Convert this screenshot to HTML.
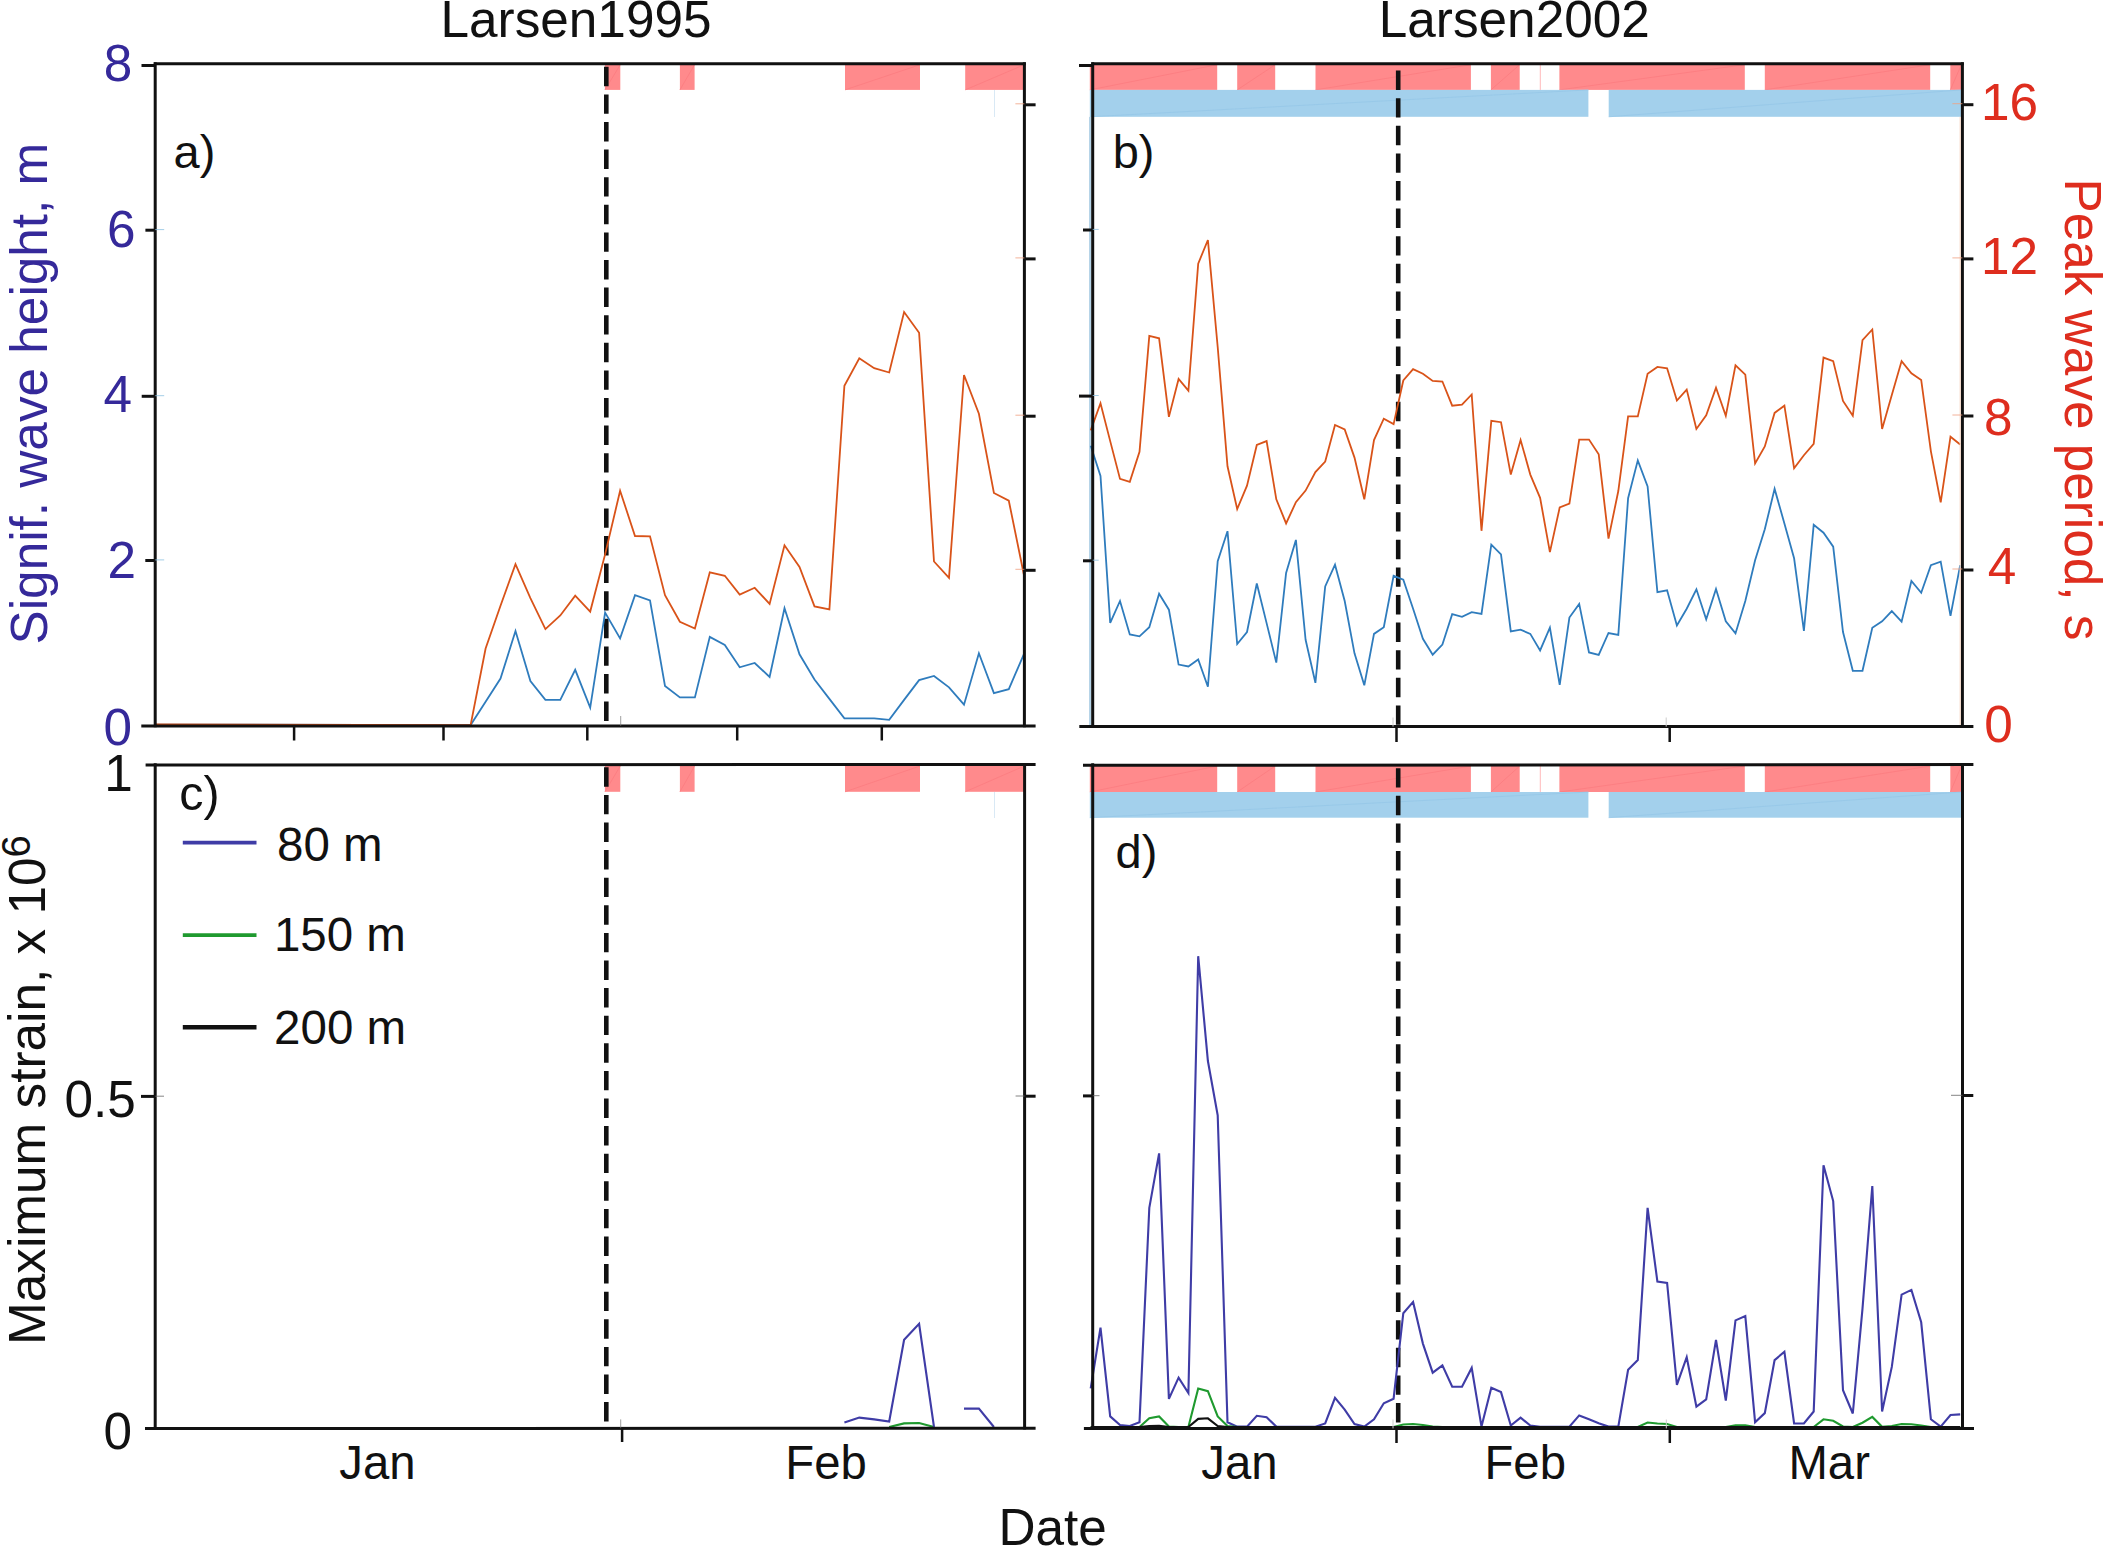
<!DOCTYPE html>
<html lang="en"><head><meta charset="utf-8"><title>Larsen wave figure</title>
<style>
html,body{margin:0;padding:0;background:#fff;}
body{width:2103px;height:1547px;overflow:hidden;}
svg{display:block;}
text{font-family:"Liberation Sans",Arial,Helvetica,sans-serif;}
</style></head><body>
<svg width="2103" height="1547" viewBox="0 0 2103 1547">
<rect width="2103" height="1547" fill="#fff"/>
<g id="bars"><rect x="604.9" y="64.7" width="15.4" height="25.2" fill="#ff8a8c"/><line x1="604.9" y1="89.9" x2="620.3" y2="64.7" stroke="#fb7a7e" stroke-width="0.7"/><rect x="679.9" y="64.7" width="14.7" height="25.2" fill="#ff8a8c"/><line x1="679.9" y1="89.9" x2="694.6" y2="64.7" stroke="#fb7a7e" stroke-width="0.7"/><rect x="845" y="64.7" width="75" height="25.2" fill="#ff8a8c"/><line x1="845" y1="89.9" x2="920" y2="64.7" stroke="#fb7a7e" stroke-width="0.7"/><rect x="965.2" y="64.7" width="59.1" height="25.2" fill="#ff8a8c"/><line x1="965.2" y1="89.9" x2="1024.3" y2="64.7" stroke="#fb7a7e" stroke-width="0.7"/><rect x="604.9" y="766" width="15.4" height="25.8" fill="#ff8a8c"/><line x1="604.9" y1="791.8" x2="620.3" y2="766" stroke="#fb7a7e" stroke-width="0.7"/><rect x="679.9" y="766" width="14.7" height="25.8" fill="#ff8a8c"/><line x1="679.9" y1="791.8" x2="694.6" y2="766" stroke="#fb7a7e" stroke-width="0.7"/><rect x="845" y="766" width="75" height="25.8" fill="#ff8a8c"/><line x1="845" y1="791.8" x2="920" y2="766" stroke="#fb7a7e" stroke-width="0.7"/><rect x="965.2" y="766" width="59.1" height="25.8" fill="#ff8a8c"/><line x1="965.2" y1="791.8" x2="1024.3" y2="766" stroke="#fb7a7e" stroke-width="0.7"/><rect x="1089.8" y="64.7" width="127.4" height="25.2" fill="#ff8a8c"/><line x1="1089.8" y1="89.9" x2="1217.2" y2="64.7" stroke="#fb7a7e" stroke-width="0.7"/><rect x="1237.2" y="64.7" width="38" height="25.2" fill="#ff8a8c"/><line x1="1237.2" y1="89.9" x2="1275.2" y2="64.7" stroke="#fb7a7e" stroke-width="0.7"/><rect x="1315.5" y="64.7" width="155.4" height="25.2" fill="#ff8a8c"/><line x1="1315.5" y1="89.9" x2="1470.9" y2="64.7" stroke="#fb7a7e" stroke-width="0.7"/><rect x="1490.9" y="64.7" width="28.8" height="25.2" fill="#ff8a8c"/><line x1="1490.9" y1="89.9" x2="1519.7" y2="64.7" stroke="#fb7a7e" stroke-width="0.7"/><rect x="1559.4" y="64.7" width="185.4" height="25.2" fill="#ff8a8c"/><line x1="1559.4" y1="89.9" x2="1744.8" y2="64.7" stroke="#fb7a7e" stroke-width="0.7"/><rect x="1764.8" y="64.7" width="165.4" height="25.2" fill="#ff8a8c"/><line x1="1764.8" y1="89.9" x2="1930.2" y2="64.7" stroke="#fb7a7e" stroke-width="0.7"/><rect x="1950.3" y="64.7" width="11.1" height="25.2" fill="#ff8a8c"/><line x1="1950.3" y1="89.9" x2="1961.4" y2="64.7" stroke="#fb7a7e" stroke-width="0.7"/><rect x="1089.8" y="89.9" width="498.6" height="26.9" fill="#a3d0ec"/><line x1="1089.8" y1="116.8" x2="1588.4" y2="89.9" stroke="#93c6e6" stroke-width="0.7"/><rect x="1608.7" y="89.9" width="352.7" height="26.9" fill="#a3d0ec"/><line x1="1608.7" y1="116.8" x2="1961.4" y2="89.9" stroke="#93c6e6" stroke-width="0.7"/><rect x="1089.8" y="766" width="127.4" height="26" fill="#ff8a8c"/><line x1="1089.8" y1="792" x2="1217.2" y2="766" stroke="#fb7a7e" stroke-width="0.7"/><rect x="1237.2" y="766" width="38" height="26" fill="#ff8a8c"/><line x1="1237.2" y1="792" x2="1275.2" y2="766" stroke="#fb7a7e" stroke-width="0.7"/><rect x="1315.5" y="766" width="155.4" height="26" fill="#ff8a8c"/><line x1="1315.5" y1="792" x2="1470.9" y2="766" stroke="#fb7a7e" stroke-width="0.7"/><rect x="1490.9" y="766" width="28.8" height="26" fill="#ff8a8c"/><line x1="1490.9" y1="792" x2="1519.7" y2="766" stroke="#fb7a7e" stroke-width="0.7"/><rect x="1559.4" y="766" width="185.4" height="26" fill="#ff8a8c"/><line x1="1559.4" y1="792" x2="1744.8" y2="766" stroke="#fb7a7e" stroke-width="0.7"/><rect x="1764.8" y="766" width="165.4" height="26" fill="#ff8a8c"/><line x1="1764.8" y1="792" x2="1930.2" y2="766" stroke="#fb7a7e" stroke-width="0.7"/><rect x="1950.3" y="766" width="11.1" height="26" fill="#ff8a8c"/><line x1="1950.3" y1="792" x2="1961.4" y2="766" stroke="#fb7a7e" stroke-width="0.7"/><rect x="1089.8" y="792" width="498.6" height="25.7" fill="#a3d0ec"/><line x1="1089.8" y1="817.7" x2="1588.4" y2="792" stroke="#93c6e6" stroke-width="0.7"/><rect x="1608.7" y="792" width="352.7" height="25.7" fill="#a3d0ec"/><line x1="1608.7" y1="817.7" x2="1961.4" y2="792" stroke="#93c6e6" stroke-width="0.7"/><line x1="1540.3" y1="65" x2="1540.3" y2="89.9" stroke="#ff8a8c" stroke-width="0.6"/><line x1="1540.3" y1="766" x2="1540.3" y2="792" stroke="#ff8a8c" stroke-width="0.6"/><line x1="994.5" y1="90" x2="994.5" y2="117" stroke="#cfe3f3" stroke-width="0.8"/><line x1="994.5" y1="792" x2="994.5" y2="818" stroke="#cfe3f3" stroke-width="0.8"/></g>
<g id="dashes" stroke="#111" stroke-width="4.6" stroke-dasharray="19.4 8.2" fill="none"><line x1="606.3" y1="66.8" x2="606.3" y2="722"/><line x1="606.3" y1="767.3" x2="606.3" y2="1422.5"/><line x1="1398.2" y1="70.6" x2="1398.2" y2="725"/><line x1="1398.2" y1="768.2" x2="1398.2" y2="1426"/></g>
<g id="series" fill="none" stroke-linejoin="miter" stroke-miterlimit="4"><polyline stroke="#2f7cbd" stroke-width="1.8" points="155.5,724.6 470.6,725.1 485.6,701.8 500.5,678.6 515.5,631 530.4,681.1 545.4,699.9 560.3,699.9 575.2,669.8 590.2,707.6 605.1,612.6 620.1,638.4 635,595.2 650,600.4 665,685.9 679.9,697.4 694.9,697.4 709.8,636.9 724.8,645 739.7,667.3 754.7,663 769.6,677 784.5,608.3 799.5,654.3 814.5,679.5 829.4,698.9 844.4,718.3 859.3,718.3 874.2,718.3 889.2,719.9 904.1,699.9 919.1,680.1 934,676 949,687.3 964,704.7 978.9,653.3 993.9,693.1 1008.8,689.2 1023.8,654.3"/><polyline stroke="#d95319" stroke-width="1.8" points="155.5,724.4 470.6,725.1 485.6,648.5 500.5,605.8 515.5,564.1 530.4,598.1 545.4,629.1 560.3,615.5 575.2,595.7 590.2,611.6 605.1,554.4 620.1,490.8 635,536 650,536.4 665,595.2 679.9,621.7 694.9,628.5 709.8,572.3 724.8,575.8 739.7,594.6 754.7,587.8 769.6,603.9 784.5,545.3 799.5,567 814.5,606.4 829.4,609.3 844.4,385.7 859.3,358.2 874.2,368.2 889.2,372.5 904.1,312 919.1,332.8 934,561.5 949,577.9 964,375 978.9,413.8 993.9,493 1008.8,500.7 1023.8,574.3"/><line x1="1090.2" y1="117" x2="1090.2" y2="725" stroke="#b6d4e8" stroke-width="2.4"/><polyline stroke="#2f7cbd" stroke-width="1.8" points="1090.7,445.8 1100.5,475.9 1110.2,622.9 1120,601 1129.8,634.5 1139.5,636.3 1149.3,627.2 1159.1,593.8 1168.9,609.7 1178.6,664.6 1188.4,666.5 1198.2,659.5 1207.9,686.7 1217.7,561.2 1227.5,531.2 1237.2,644 1247,632 1256.8,583.5 1266.6,623.1 1276.3,662.6 1286.1,572.9 1295.9,539.9 1305.6,639.8 1315.4,682.8 1325.2,586.4 1335,564.7 1344.7,601 1354.5,653.3 1364.3,685.3 1374,633.9 1383.8,627.2 1393.6,575.8 1403.3,579.6 1413.1,608.7 1422.9,638.8 1432.7,654.7 1442.4,644.6 1452.2,614.2 1462,616.9 1471.7,612.2 1481.5,614 1491.3,544.7 1501,554.4 1510.8,631.4 1520.6,629.7 1530.3,633.9 1540.1,650.4 1549.9,627.7 1559.7,684.8 1569.4,617.5 1579.2,603.9 1589,652.4 1598.7,654.9 1608.5,633 1618.3,634.9 1628.1,498.2 1637.8,460.4 1647.6,486.5 1657.4,592.2 1667.1,590.3 1676.9,625.4 1686.7,608.7 1696.4,589.3 1706.2,619.4 1716,589 1725.8,621.3 1735.5,633.4 1745.3,601 1755.1,560.2 1764.8,529.2 1774.6,488.9 1784.4,523.4 1794.1,558.3 1803.9,631 1813.7,524.8 1823.5,532.7 1833.2,546.7 1843,632 1852.8,670.8 1862.5,670.8 1872.3,627.7 1882.1,621.3 1891.8,611.1 1901.6,621.7 1911.4,581 1921.2,592.8 1930.9,565.1 1940.7,561.6 1950.5,615.9 1960.2,565.1"/><polyline stroke="#d95319" stroke-width="1.8" points="1090.7,430.4 1100.5,403.3 1110.2,441.1 1120,478.9 1129.8,481.8 1139.5,451.8 1149.3,335.8 1159.1,338.3 1168.9,416.9 1178.6,379 1188.4,390.7 1198.2,263.6 1207.9,240 1217.7,347 1227.5,466.3 1237.2,509 1247,485.7 1256.8,445 1266.6,441.1 1276.3,499.3 1286.1,523.4 1295.9,502.2 1305.6,490.6 1315.4,472.1 1325.2,461.5 1335,425 1344.7,429.5 1354.5,457.6 1364.3,499.3 1374,440.1 1383.8,418.7 1393.6,424.1 1403.3,380.5 1413.1,369.2 1422.9,373.7 1432.7,380.9 1442.4,381.5 1452.2,405.7 1462,404.7 1471.7,394.5 1481.5,530.8 1491.3,420.8 1501,422.2 1510.8,474.6 1520.6,440 1530.3,474.6 1540.1,497.8 1549.9,552.1 1559.7,507.5 1569.4,503.6 1579.2,439.6 1589,439.6 1598.7,454.2 1608.5,538.6 1618.3,491 1628.1,416.4 1637.8,416.4 1647.6,373.7 1657.4,366.9 1667.1,368.3 1676.9,400.5 1686.7,389.6 1696.4,429 1706.2,415.4 1716,387.7 1725.8,415.8 1735.5,365.4 1745.3,374.7 1755.1,463.5 1764.8,446.4 1774.6,412.9 1784.4,405.7 1794.1,468.2 1803.9,455.2 1813.7,443.9 1823.5,357.6 1833.2,361.1 1843,400.9 1852.8,415.8 1862.5,340.1 1872.3,329.5 1882.1,429 1891.8,395 1901.6,361.1 1911.4,373.3 1921.2,379.9 1930.9,451.3 1940.7,502.3 1950.5,436.7 1960.2,444.5"/><polyline stroke="#1f9a2f" stroke-width="2.1" points="889.2,1427 904.1,1423.4 919.1,1423 934,1427"/><polyline stroke="#3f3ca6" stroke-width="2.1" points="844.4,1422.5 859.3,1417.6 874.2,1419.4 889.2,1421.5 904.1,1339.8 919.1,1323.9 934,1427"/><polyline stroke="#3f3ca6" stroke-width="2.1" points="964,1408.6 978.9,1408.6 993.9,1427"/><polyline stroke="#3f3ca6" stroke-width="2.1" points="1090.7,1388.3 1100.5,1327.7 1110.2,1416.4 1120,1425.1 1129.8,1426 1139.5,1422.2 1149.3,1207.9 1159.1,1153.4 1168.9,1398.9 1178.6,1377.6 1188.4,1393.1 1198.2,956.2 1207.9,1061 1217.7,1115.3 1227.5,1422.2 1237.2,1426.6 1247,1426.6 1256.8,1415.8 1266.6,1417.3 1276.3,1426.6 1286.1,1426.8 1295.9,1426.8 1305.6,1426.8 1315.4,1426.8 1325.2,1423.5 1335,1397.9 1344.7,1409.6 1354.5,1424.1 1364.3,1426.6 1374,1419.3 1383.8,1403.3 1393.6,1398.7 1403.3,1313.2 1413.1,1301.9 1422.9,1343.6 1432.7,1372.7 1442.4,1365.4 1452.2,1386.7 1462,1386.7 1471.7,1367.9 1481.5,1426.6 1491.3,1387.7 1501,1392.1 1510.8,1425.5 1520.6,1417.7 1530.3,1425.5 1540.1,1426.8 1549.9,1426.8 1559.7,1426.8 1569.4,1426.6 1579.2,1415.4 1589,1419.3 1598.7,1423.2 1608.5,1426.6 1618.3,1426.6 1628.1,1369.8 1637.8,1360.1 1647.6,1207.9 1657.4,1281.6 1667.1,1282.9 1676.9,1384.8 1686.7,1357.2 1696.4,1406.7 1706.2,1399.3 1716,1339.8 1725.8,1400.5 1735.5,1320.4 1745.3,1316.1 1755.1,1422.2 1764.8,1413.1 1774.6,1360.1 1784.4,1351.8 1794.1,1423.5 1803.9,1423.5 1813.7,1411.5 1823.5,1165.2 1833.2,1201.1 1843,1390.2 1852.8,1413.5 1862.5,1308.7 1872.3,1186 1882.1,1411.5 1891.8,1366.9 1901.6,1294.6 1911.4,1289.9 1921.2,1322.3 1930.9,1419.3 1940.7,1426.6 1950.5,1415 1960.2,1414.4"/><polyline stroke="#1f9a2f" stroke-width="2.1" points="1090.7,1427 1100.5,1427 1110.2,1427 1120,1427 1129.8,1427 1139.5,1427 1149.3,1418.3 1159.1,1416.4 1168.9,1426.5 1178.6,1427 1188.4,1427 1198.2,1388.6 1207.9,1391.2 1217.7,1416.4 1227.5,1426 1237.2,1427 1247,1427 1256.8,1427 1266.6,1427 1276.3,1427 1286.1,1427 1295.9,1427 1305.6,1427 1315.4,1427 1325.2,1427 1335,1427 1344.7,1427 1354.5,1427 1364.3,1427 1374,1427 1383.8,1427 1393.6,1427 1403.3,1424.5 1413.1,1424 1422.9,1425 1432.7,1426.5 1442.4,1427 1452.2,1427 1462,1427 1471.7,1427 1481.5,1427 1491.3,1427 1501,1427 1510.8,1427 1520.6,1427 1530.3,1427 1540.1,1427 1549.9,1427 1559.7,1427 1569.4,1427 1579.2,1427 1589,1427 1598.7,1427 1608.5,1427 1618.3,1427 1628.1,1427 1637.8,1427 1647.6,1422.5 1657.4,1423.5 1667.1,1424 1676.9,1427 1686.7,1427 1696.4,1427 1706.2,1427 1716,1427 1725.8,1427 1735.5,1425.3 1745.3,1425.3 1755.1,1427 1764.8,1427 1774.6,1427 1784.4,1427 1794.1,1427 1803.9,1427 1813.7,1427 1823.5,1419.3 1833.2,1420.8 1843,1426.5 1852.8,1427 1862.5,1422.7 1872.3,1416.9 1882.1,1426.8 1891.8,1426 1901.6,1424 1911.4,1424.3 1921.2,1425.5 1930.9,1427 1940.7,1427 1950.5,1427 1960.2,1427"/><polyline stroke="#111" stroke-width="2.1" points="1090.7,1427 1100.5,1427 1110.2,1427 1120,1427 1129.8,1427 1139.5,1427 1149.3,1426 1159.1,1425.8 1168.9,1427 1178.6,1427 1188.4,1427 1198.2,1418.9 1207.9,1418.3 1217.7,1426 1227.5,1427 1237.2,1427 1247,1427 1256.8,1427 1266.6,1427 1276.3,1427 1286.1,1427 1295.9,1427 1305.6,1427 1315.4,1427 1325.2,1427 1335,1427 1344.7,1427 1354.5,1427 1364.3,1427 1374,1427 1383.8,1427 1393.6,1427 1403.3,1427 1413.1,1427 1422.9,1427 1432.7,1427 1442.4,1427 1452.2,1427 1462,1427 1471.7,1427 1481.5,1427 1491.3,1427 1501,1427 1510.8,1427 1520.6,1427 1530.3,1427 1540.1,1427 1549.9,1427 1559.7,1427 1569.4,1427 1579.2,1427 1589,1427 1598.7,1427 1608.5,1427 1618.3,1427 1628.1,1427 1637.8,1427 1647.6,1427 1657.4,1427 1667.1,1427 1676.9,1427 1686.7,1427 1696.4,1427 1706.2,1427 1716,1427 1725.8,1427 1735.5,1427 1745.3,1427 1755.1,1427 1764.8,1427 1774.6,1427 1784.4,1427 1794.1,1427 1803.9,1427 1813.7,1427 1823.5,1427 1833.2,1427 1843,1427 1852.8,1427 1862.5,1427 1872.3,1427 1882.1,1427 1891.8,1427 1901.6,1427 1911.4,1427 1921.2,1427 1930.9,1427 1940.7,1427 1950.5,1427 1960.2,1427"/></g>
<g id="axes"><line x1="155.2" y1="62.3" x2="155.2" y2="727.3" stroke="#111" stroke-width="3.0"/><line x1="1024.4" y1="62.3" x2="1024.4" y2="727.3" stroke="#111" stroke-width="3.0"/><line x1="141.5" y1="65.5" x2="155.2" y2="65.5" stroke="#111" stroke-width="3.0"/><line x1="153.8" y1="63.7" x2="1025.8" y2="63.7" stroke="#111" stroke-width="3.0"/><line x1="141.3" y1="725.9" x2="1035.6" y2="725.9" stroke="#111" stroke-width="3.0"/><line x1="145.4" y1="230.2" x2="155.2" y2="230.2" stroke="#111" stroke-width="3.0"/><line x1="155.2" y1="229.6" x2="164.2" y2="229.6" stroke="#8cc0e0" stroke-width="0.8"/><line x1="141.7" y1="396.3" x2="155.2" y2="396.3" stroke="#111" stroke-width="3.0"/><line x1="155.2" y1="395.7" x2="164.2" y2="395.7" stroke="#8cc0e0" stroke-width="0.8"/><line x1="145.3" y1="560.5" x2="155.2" y2="560.5" stroke="#111" stroke-width="3.0"/><line x1="155.2" y1="559.9" x2="164.2" y2="559.9" stroke="#8cc0e0" stroke-width="0.8"/><line x1="1024.4" y1="104.8" x2="1035.6" y2="104.8" stroke="#111" stroke-width="3.0"/><line x1="1015.4" y1="103.8" x2="1024.4" y2="103.8" stroke="#f0a080" stroke-width="0.8"/><line x1="1024.4" y1="258.9" x2="1035.6" y2="258.9" stroke="#111" stroke-width="3.0"/><line x1="1015.4" y1="257.9" x2="1024.4" y2="257.9" stroke="#f0a080" stroke-width="0.8"/><line x1="1024.4" y1="416.2" x2="1035.6" y2="416.2" stroke="#111" stroke-width="3.0"/><line x1="1015.4" y1="415.2" x2="1024.4" y2="415.2" stroke="#f0a080" stroke-width="0.8"/><line x1="1024.4" y1="570.3" x2="1035.6" y2="570.3" stroke="#111" stroke-width="3.0"/><line x1="1015.4" y1="569.3" x2="1024.4" y2="569.3" stroke="#f0a080" stroke-width="0.8"/><line x1="294.1" y1="725.9" x2="294.1" y2="740.5" stroke="#111" stroke-width="2.5"/><line x1="443.5" y1="725.9" x2="443.5" y2="740.5" stroke="#111" stroke-width="2.5"/><line x1="587.3" y1="725.9" x2="587.3" y2="740.5" stroke="#111" stroke-width="2.5"/><line x1="737.2" y1="725.9" x2="737.2" y2="740.5" stroke="#111" stroke-width="2.5"/><line x1="881.8" y1="725.9" x2="881.8" y2="740.5" stroke="#111" stroke-width="2.5"/><line x1="620.7" y1="716" x2="620.7" y2="725.9" stroke="#777" stroke-width="0.7"/><line x1="1092.7" y1="62.3" x2="1092.7" y2="728" stroke="#111" stroke-width="3.0"/><line x1="1962.4" y1="62.3" x2="1962.4" y2="728" stroke="#111" stroke-width="3.0"/><line x1="1960.2" y1="117" x2="1960.2" y2="726.6" stroke="#f7d9c8" stroke-width="1.2"/><line x1="1079" y1="65.5" x2="1092.7" y2="65.5" stroke="#111" stroke-width="3.0"/><line x1="1091.3" y1="63.7" x2="1963.8" y2="63.7" stroke="#111" stroke-width="3.0"/><line x1="1079.3" y1="726.6" x2="1973.4" y2="726.6" stroke="#111" stroke-width="3.0"/><line x1="1083" y1="230" x2="1092.7" y2="230" stroke="#111" stroke-width="3.0"/><line x1="1092.7" y1="229.4" x2="1098.7" y2="229.4" stroke="#8cc0e0" stroke-width="0.8"/><line x1="1079" y1="396.1" x2="1092.7" y2="396.1" stroke="#111" stroke-width="3.0"/><line x1="1092.7" y1="395.5" x2="1098.7" y2="395.5" stroke="#8cc0e0" stroke-width="0.8"/><line x1="1083" y1="560.8" x2="1092.7" y2="560.8" stroke="#111" stroke-width="3.0"/><line x1="1092.7" y1="560.2" x2="1098.7" y2="560.2" stroke="#8cc0e0" stroke-width="0.8"/><line x1="1962.4" y1="104.7" x2="1973.4" y2="104.7" stroke="#111" stroke-width="3.0"/><line x1="1952.4" y1="103.7" x2="1962.4" y2="103.7" stroke="#f0a080" stroke-width="0.8"/><line x1="1962.4" y1="258.9" x2="1973.4" y2="258.9" stroke="#111" stroke-width="3.0"/><line x1="1952.4" y1="257.9" x2="1962.4" y2="257.9" stroke="#f0a080" stroke-width="0.8"/><line x1="1962.4" y1="416" x2="1973.4" y2="416" stroke="#111" stroke-width="3.0"/><line x1="1952.4" y1="415" x2="1962.4" y2="415" stroke="#f0a080" stroke-width="0.8"/><line x1="1962.4" y1="570" x2="1973.4" y2="570" stroke="#111" stroke-width="3.0"/><line x1="1952.4" y1="569" x2="1962.4" y2="569" stroke="#f0a080" stroke-width="0.8"/><line x1="1396.5" y1="726.6" x2="1396.5" y2="742" stroke="#111" stroke-width="2.5"/><line x1="1393" y1="717.5" x2="1393" y2="726.6" stroke="#ccc" stroke-width="1.0"/><line x1="1669.7" y1="726.6" x2="1669.7" y2="742" stroke="#111" stroke-width="2.5"/><line x1="1666.2" y1="717.5" x2="1666.2" y2="726.6" stroke="#ccc" stroke-width="1.0"/><line x1="155.2" y1="763.2" x2="155.2" y2="1429.6" stroke="#111" stroke-width="3.0"/><line x1="1024.6" y1="763.2" x2="1024.6" y2="1429.6" stroke="#111" stroke-width="3.0"/><line x1="145.6" y1="765" x2="1035.6" y2="764.4" stroke="#111" stroke-width="3.0"/><line x1="145" y1="1428.6" x2="1035.6" y2="1428.2" stroke="#111" stroke-width="3.0"/><line x1="141" y1="1096.4" x2="155.2" y2="1096.4" stroke="#111" stroke-width="3.0"/><line x1="155.2" y1="1096.2" x2="164" y2="1096.2" stroke="#666" stroke-width="0.8"/><line x1="1024.6" y1="1096.2" x2="1035.6" y2="1096.2" stroke="#111" stroke-width="3.0"/><line x1="1015.6" y1="1096" x2="1024.6" y2="1096" stroke="#666" stroke-width="0.8"/><line x1="622.1" y1="1428.2" x2="622.1" y2="1442" stroke="#111" stroke-width="2.5"/><line x1="620.7" y1="1419.4" x2="620.7" y2="1428.2" stroke="#777" stroke-width="0.7"/><line x1="1092.7" y1="763.3" x2="1092.7" y2="1429.8" stroke="#111" stroke-width="3.0"/><line x1="1962.5" y1="763.3" x2="1962.5" y2="1429.8" stroke="#111" stroke-width="3.0"/><line x1="1083" y1="765.3" x2="1973.4" y2="764.5" stroke="#111" stroke-width="3.0"/><line x1="1083.9" y1="1428.4" x2="1974" y2="1428.4" stroke="#111" stroke-width="3.0"/><line x1="1083" y1="1095.9" x2="1092.7" y2="1095.9" stroke="#111" stroke-width="3.0"/><line x1="1092.7" y1="1095.7" x2="1099.5" y2="1095.7" stroke="#666" stroke-width="0.8"/><line x1="1962.5" y1="1095.5" x2="1973.3" y2="1095.5" stroke="#111" stroke-width="3.0"/><line x1="1951" y1="1095.3" x2="1962.5" y2="1095.3" stroke="#666" stroke-width="0.8"/><line x1="1396.5" y1="1428.4" x2="1396.5" y2="1443" stroke="#111" stroke-width="2.5"/><line x1="1393" y1="1419.5" x2="1393" y2="1428.4" stroke="#ccc" stroke-width="1.0"/><line x1="1669.8" y1="1428.4" x2="1669.8" y2="1443" stroke="#111" stroke-width="2.5"/><line x1="1666.3" y1="1419.5" x2="1666.3" y2="1428.4" stroke="#ccc" stroke-width="1.0"/></g>
<g id="labels"><text x="440.5" y="36.5" font-size="51.3" fill="#111" text-anchor="start">Larsen1995</text><text x="1378.8" y="36.5" font-size="51.3" fill="#111" text-anchor="start">Larsen2002</text><text x="998.5" y="1545.2" font-size="51.3" fill="#111" text-anchor="start">Date</text><text x="132.4" y="80.5" font-size="51.3" fill="#35299a" text-anchor="end">8</text><text x="135.6" y="247" font-size="51.3" fill="#35299a" text-anchor="end">6</text><text x="132" y="411.9" font-size="51.3" fill="#35299a" text-anchor="end">4</text><text x="136" y="578" font-size="51.3" fill="#35299a" text-anchor="end">2</text><text x="132" y="745.4" font-size="51.3" fill="#35299a" text-anchor="end">0</text><text x="1981" y="120.2" font-size="51.3" fill="#de2d1e" text-anchor="start">16</text><text x="1981" y="273.8" font-size="51.3" fill="#de2d1e" text-anchor="start">12</text><text x="1984" y="434.8" font-size="51.3" fill="#de2d1e" text-anchor="start">8</text><text x="1987.7" y="584.2" font-size="51.3" fill="#de2d1e" text-anchor="start">4</text><text x="1984.2" y="742.2" font-size="51.3" fill="#de2d1e" text-anchor="start">0</text><text x="132.9" y="790.5" font-size="51.3" fill="#111" text-anchor="end">1</text><text x="135.7" y="1117.3" font-size="51.3" fill="#111" text-anchor="end">0.5</text><text x="132" y="1448.7" font-size="51.3" fill="#111" text-anchor="end">0</text><text x="173.5" y="167.5" font-size="47" fill="#111" text-anchor="start">a)</text><text x="1112.7" y="168.1" font-size="47" fill="#111" text-anchor="start">b)</text><text x="179.2" y="810" font-size="48.4" fill="#111" text-anchor="start">c)</text><text x="1115.5" y="867.6" font-size="47" fill="#111" text-anchor="start">d)</text><text x="377.5" y="1479" font-size="47.3" fill="#111" text-anchor="middle">Jan</text><text x="826" y="1479" font-size="47.3" fill="#111" text-anchor="middle">Feb</text><text x="1239.5" y="1479" font-size="47.3" fill="#111" text-anchor="middle">Jan</text><text x="1525.2" y="1479" font-size="47.3" fill="#111" text-anchor="middle">Feb</text><text x="1829.2" y="1479" font-size="47.3" fill="#111" text-anchor="middle">Mar</text><line x1="182.8" y1="842.7" x2="256.5" y2="842.7" stroke="#3f3ca6" stroke-width="3.8"/><line x1="182.8" y1="935.2" x2="256.5" y2="935.2" stroke="#1f9a2f" stroke-width="3.8"/><line x1="182.8" y1="1027.2" x2="256.5" y2="1027.2" stroke="#111" stroke-width="4.6"/><text x="277" y="861.4" font-size="47.5" fill="#111" text-anchor="start">80 m</text><text x="273.9" y="951.4" font-size="47.5" fill="#111" text-anchor="start">150 m</text><text x="274.1" y="1043.8" font-size="47.5" fill="#111" text-anchor="start">200 m</text><text transform="translate(46.5,644.5) rotate(-90)" font-size="51.3" fill="#35299a">Signif. wave height, m</text><text transform="translate(44.8,1345) rotate(-90)" font-size="51.3" fill="#111">Maximum strain, x 10<tspan dy="-15" font-size="40">6</tspan></text><text transform="translate(2065.3,178.5) rotate(90)" font-size="51.3" fill="#de2d1e">Peak wave period, s</text></g>
</svg>
</body></html>
